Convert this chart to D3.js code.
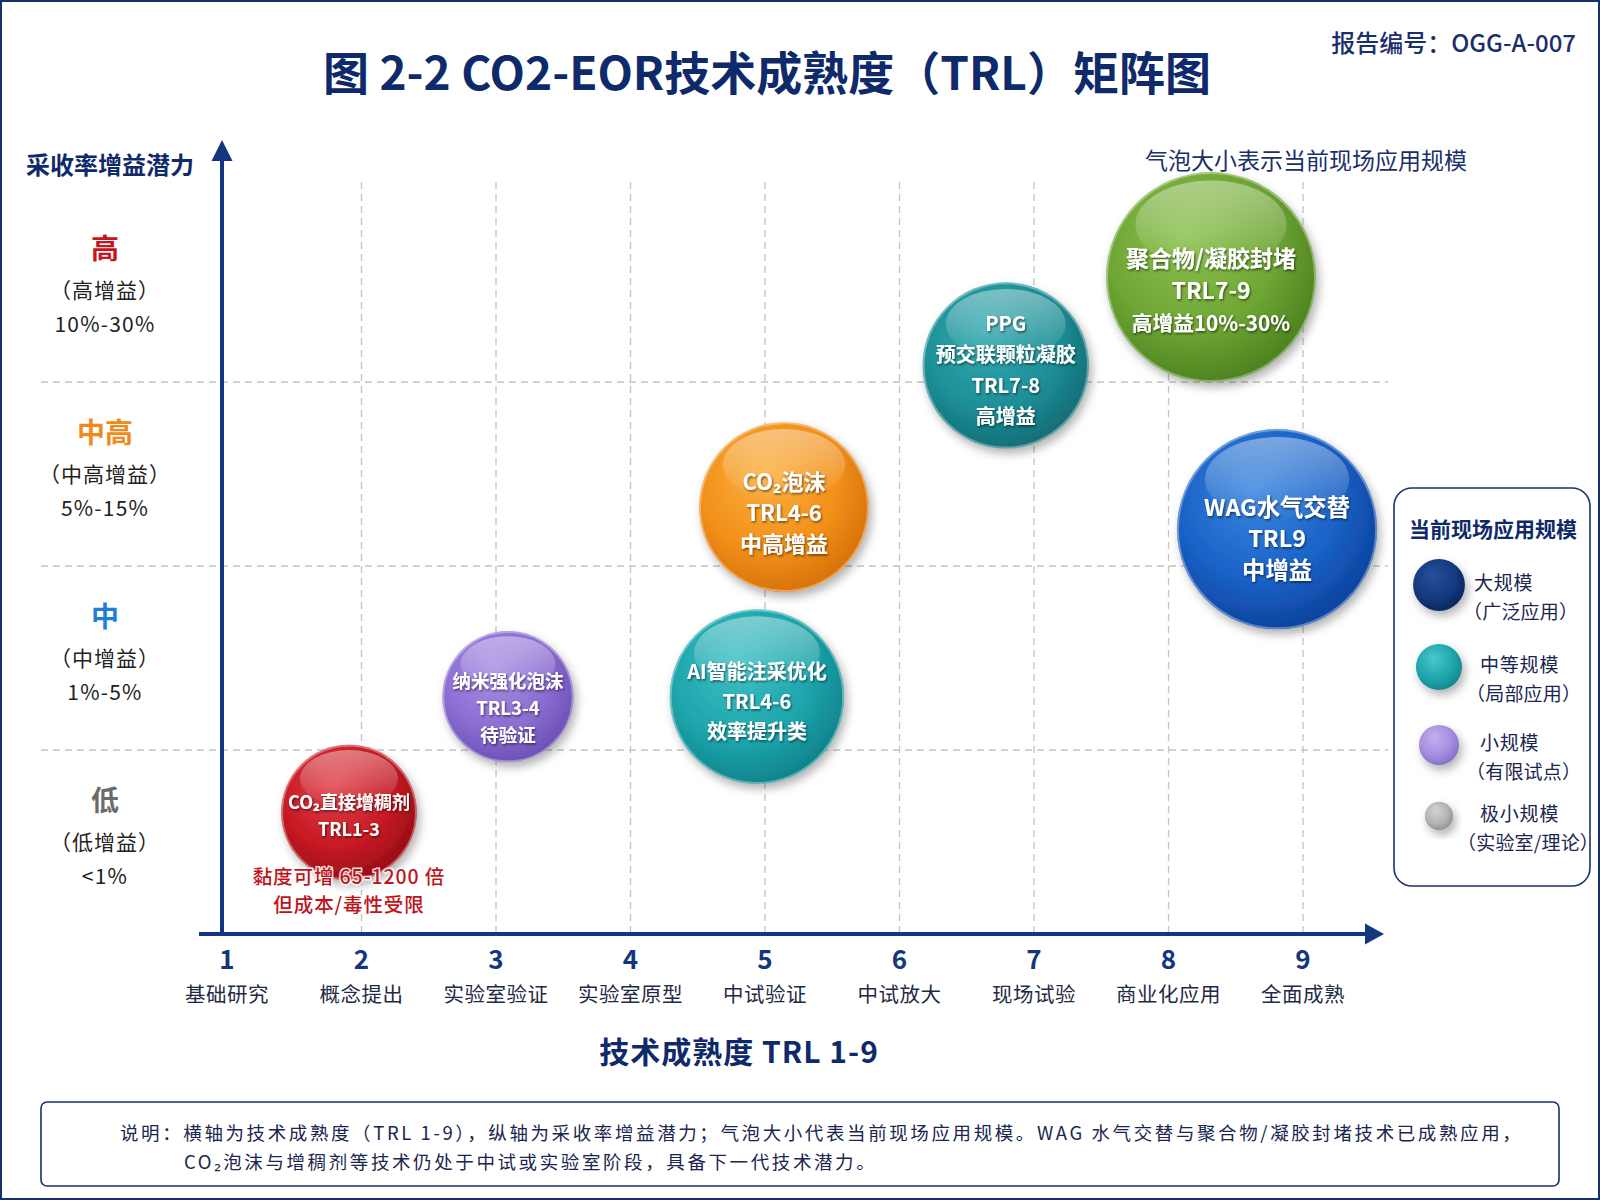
<!DOCTYPE html>
<html><head><meta charset="utf-8">
<script src="https://cdn.jsdelivr.net/npm/d3@7/dist/d3.min.js"></script>
<style>
html,body{margin:0;padding:0;background:#fff;}
svg{display:block;font-family:"Noto Sans CJK SC","Noto Sans",sans-serif;}
</style></head>
<body>
<svg id="chart" width="1600" height="1200"></svg>
<script>
// ---------- DATA ----------
const trlTicks = [1, 2, 3, 4, 5, 6, 7, 8, 9];
const trlLabels = ["基础研究", "概念提出", "实验室验证", "实验室原型", "中试验证", "中试放大", "现场试验", "商业化应用", "全面成熟"];

const gainLevels = ["低", "中", "中高", "高"];
const gainSubLabels = ["（低增益）", "（中增益）", "（中高增益）", "（高增益）"];
const gainRanges = ["<1%", "1%-5%", "5%-15%", "10%-30%"];
const gainColors = ["#6b6b6b", "#1f7fd6", "#f08a1c", "#c8141c"];

const techLines = [
  ["CO₂直接增稠剂", "TRL1-3"],
  ["纳米强化泡沫", "TRL3-4", "待验证"],
  ["AI智能注采优化", "TRL4-6", "效率提升类"],
  ["CO₂泡沫", "TRL4-6", "中高增益"],
  ["PPG", "预交联颗粒凝胶", "TRL7-8", "高增益"],
  ["聚合物/凝胶封堵", "TRL7-9", "高增益10%-30%"],
  ["WAG水气交替", "TRL9", "中增益"]
];
const techTRL = [1.907, 3.089, 4.94, 5.141, 6.79, 8.316, 8.807];
const techGain = [0.66, 1.29, 1.29, 2.32, 3.09, 3.57, 2.2];
const techScale = [46, 43, 76, 72, 69, 110, 100];
const techColors = [
  ["#e0424a", "#c61a24", "#9c0e16"],
  ["#a88ee4", "#8b6dd2", "#6e52b8"],
  ["#3cc0c4", "#1ea5ac", "#10858e"],
  ["#fbb040", "#f2901a", "#d9740a"],
  ["#35aab0", "#1e8f97", "#126f78"],
  ["#8cc24e", "#6ea534", "#4f8420"],
  ["#3a86e0", "#1a62c6", "#0d45a0"]
];
const techFont = [18, 18.5, 20, 22, 20, 23, 23.3];
const techLineFontScale = [[1, 1], [1, 1, 1], [1, 1, 1], [1, 1, 1], [1, 1, 1, 1], [1, 1, 0.9], [1, 1, 1]];
const techLineGap = [26.5, 27, 30, 31, 31, 32.6, 31.6];
const techTextDy = [2, 10, 4, 4, 3.5, 12, 8];
const techNotes = ["黏度可增 65-1200 倍", "但成本/毒性受限"];

const legendTitle = "当前现场应用规模";
const legendNames = ["大规模", "中等规模", "小规模", "极小规模"];
const legendSubs = ["（广泛应用）", "（局部应用）", "（有限试点）", "（实验室/理论）"];
const legendSize = [6.7, 5.3, 4.0, 2.0];
const legendColors = [
  ["#2a4f9c", "#143a80", "#0c2860"],
  ["#4cc6ca", "#1fa7ad", "#138a90"],
  ["#c0b0ee", "#a58fe0", "#8a72cc"],
  ["#d4d4d4", "#b4b4b4", "#969696"]
];

const titleText = "图 2-2  CO2-EOR技术成熟度（TRL）矩阵图";
const reportNo = "报告编号：OGG-A-007";
const yAxisTitle = "采收率增益潜力";
const xAxisTitle = "技术成熟度  TRL 1-9";
const sizeNote = "气泡大小表示当前现场应用规模";
const noteLines = [
  "说明：横轴为技术成熟度（TRL 1-9），纵轴为采收率增益潜力；气泡大小代表当前现场应用规模。WAG 水气交替与聚合物/凝胶封堵技术已成熟应用，",
  "CO₂泡沫与增稠剂等技术仍处于中试或实验室阶段，具备下一代技术潜力。"
];

// ---------- SETUP ----------
const NAVY = "#14367f";
const svg = d3.select("#chart");
const defs = svg.append("defs");

const x = d3.scaleLinear().domain([1, 9]).range([227, 1303]);
const y = d3.scaleLinear().domain([0, 4]).range([934, 198]);
const r = d3.scaleSqrt().domain([0, 110]).range([0, 105]);

// filters
const sh = defs.append("filter").attr("id", "bshadow").attr("x", "-30%").attr("y", "-30%").attr("width", "160%").attr("height", "160%");
sh.append("feDropShadow").attr("dx", 3).attr("dy", 5).attr("stdDeviation", 5).attr("flood-color", "#000").attr("flood-opacity", 0.3);
const ts = defs.append("filter").attr("id", "tshadow").attr("x", "-10%").attr("y", "-30%").attr("width", "120%").attr("height", "160%");
ts.append("feDropShadow").attr("dx", 1).attr("dy", 1.5).attr("stdDeviation", 1.2).attr("flood-color", "#000").attr("flood-opacity", 0.55);

const hl = defs.append("linearGradient").attr("id", "hlgrad").attr("x1", 0).attr("y1", 0).attr("x2", 0).attr("y2", 1);
hl.append("stop").attr("offset", "0%").attr("stop-color", "#fff").attr("stop-opacity", 0.4);
hl.append("stop").attr("offset", "100%").attr("stop-color", "#fff").attr("stop-opacity", 0);

function makeGrad(id, c) {
  const g = defs.append("radialGradient").attr("id", id)
    .attr("cx", "42%").attr("cy", "38%").attr("r", "62%").attr("fx", "38%").attr("fy", "30%");
  g.append("stop").attr("offset", "0%").attr("stop-color", c[0]);
  g.append("stop").attr("offset", "65%").attr("stop-color", c[1]);
  g.append("stop").attr("offset", "100%").attr("stop-color", c[2]);
}
techColors.forEach((c, i) => makeGrad("tg" + i, c));
legendColors.forEach((c, i) => makeGrad("lg" + i, c));

// outer frame
svg.append("rect").attr("x", 1).attr("y", 1).attr("width", 1598).attr("height", 1198)
  .attr("fill", "#fff").attr("stroke", "#1b2f6b").attr("stroke-width", 2);

// title
svg.append("text").attr("x", 767).attr("y", 70).attr("text-anchor", "middle").attr("dominant-baseline", "central")
  .attr("font-size", 46).attr("font-weight", 700).attr("fill", "#0f2a6a").text(titleText);
svg.append("text").attr("x", 1576).attr("y", 41).attr("text-anchor", "end").attr("dominant-baseline", "central")
  .attr("font-size", 24).attr("font-weight", 500).attr("fill", "#1b2f6b").text(reportNo);

// grid
const grid = svg.append("g").attr("stroke", "#c4c4c4").attr("stroke-width", 1.3).attr("stroke-dasharray", "7,5").attr("fill", "none");
grid.selectAll("line.v").data(trlTicks.slice(1)).join("line").attr("class", "v")
  .attr("x1", d => x(d)).attr("x2", d => x(d)).attr("y1", 182).attr("y2", y(0));
grid.selectAll("line.h").data([1, 2, 3]).join("line").attr("class", "h")
  .attr("x1", 41).attr("x2", 1388).attr("y1", d => y(d)).attr("y2", d => y(d));

// y category labels
const yl = svg.append("g").attr("text-anchor", "middle");
gainLevels.forEach((g, i) => {
  const cy = y(i + 0.5);
  yl.append("text").attr("x", 105).attr("y", cy - 43).attr("dominant-baseline", "central")
    .attr("font-size", 28).attr("font-weight", 700).attr("fill", gainColors[i]).text(g);
  yl.append("text").attr("x", 105).attr("y", cy - 1).attr("dominant-baseline", "central")
    .attr("font-size", 21).attr("letter-spacing", 1).attr("fill", "#222").text(gainSubLabels[i]);
  yl.append("text").attr("x", 105).attr("y", cy + 33).attr("dominant-baseline", "central")
    .attr("font-size", 21).attr("letter-spacing", 1.2).attr("fill", "#222").text(gainRanges[i]);
});

// axes
svg.append("line").attr("x1", 222).attr("x2", 222).attr("y1", y(0) + 2).attr("y2", 158)
  .attr("stroke", NAVY).attr("stroke-width", 4);
svg.append("path").attr("d", "M222,140 L211.5,161 L232.5,161 Z").attr("fill", NAVY);
svg.append("line").attr("x1", 199).attr("x2", 1368).attr("y1", y(0)).attr("y2", y(0))
  .attr("stroke", NAVY).attr("stroke-width", 4);
svg.append("path").attr("d", `M1384,${y(0)} L1365,${y(0) - 10.5} L1365,${y(0) + 10.5} Z`).attr("fill", NAVY);

// x ticks
const xt = svg.append("g").attr("text-anchor", "middle");
xt.selectAll("text.num").data(trlTicks).join("text").attr("class", "num")
  .attr("x", d => x(d)).attr("y", 957).attr("dominant-baseline", "central")
  .attr("font-size", 26).attr("font-weight", 700).attr("fill", NAVY).text(d => d);
xt.selectAll("text.lab").data(trlTicks).join("text").attr("class", "lab")
  .attr("x", d => x(d)).attr("y", 993).attr("dominant-baseline", "central")
  .attr("font-size", 20.5).attr("letter-spacing", 0.5).attr("fill", "#1f2a44").text((d, i) => trlLabels[i]);

// axis titles
svg.append("text").attr("x", 110).attr("y", 163).attr("text-anchor", "middle").attr("dominant-baseline", "central")
  .attr("font-size", 24).attr("font-weight", 700).attr("fill", "#0f2a6a").text(yAxisTitle);
svg.append("text").attr("x", 739).attr("y", 1050).attr("text-anchor", "middle").attr("dominant-baseline", "central")
  .attr("font-size", 30).attr("font-weight", 700).attr("letter-spacing", 1).attr("fill", "#0f2a6a").text(xAxisTitle);
svg.append("text").attr("x", 1306).attr("y", 159).attr("text-anchor", "middle").attr("dominant-baseline", "central")
  .attr("font-size", 23).attr("fill", "#1b2f6b").text(sizeNote);

// bubbles
const bubbles = svg.append("g").selectAll("g").data(techLines.map((l, i) => i)).join("g")
  .attr("transform", i => `translate(${x(techTRL[i])},${y(techGain[i])})`);
bubbles.append("circle").attr("r", i => r(techScale[i])).attr("fill", i => `url(#tg${i})`)
  .attr("filter", "url(#bshadow)");
bubbles.append("circle").attr("r", i => r(techScale[i]) - 1).attr("fill", "none")
  .attr("stroke", "#fff").attr("stroke-opacity", 0.35).attr("stroke-width", 2);
bubbles.append("ellipse").attr("cx", 0).attr("cy", i => -r(techScale[i]) * 0.5)
  .attr("rx", i => r(techScale[i]) * 0.72).attr("ry", i => r(techScale[i]) * 0.42)
  .attr("fill", "url(#hlgrad)");
bubbles.each(function (i) {
  const g = d3.select(this);
  const lines = techLines[i];
  const fs = techFont[i];
  const lh = techLineGap[i];
  const off = -(lines.length - 1) * lh / 2 + techTextDy[i];
  lines.forEach((t, k) => {
    g.append("text").attr("x", 0).attr("y", off + k * lh).attr("text-anchor", "middle")
      .attr("dominant-baseline", "central").attr("font-size", fs * techLineFontScale[i][k]).attr("font-weight", 700)
      .attr("fill", "#fff").attr("filter", "url(#tshadow)").text(t);
  });
});

// annotation under CO2 thickener
techNotes.forEach((t, k) => {
  svg.append("text").attr("x", x(techTRL[0])).attr("y", 875 + k * 28).attr("text-anchor", "middle")
    .attr("dominant-baseline", "central").attr("font-size", 19.5).attr("font-weight", 500).attr("letter-spacing", 0.9)
    .attr("fill", "#c0141c").attr("stroke", "#fff").attr("stroke-width", 3).attr("stroke-opacity", 0.85)
    .attr("paint-order", "stroke").text(t);
});

// legend
const lg = svg.append("g");
lg.append("rect").attr("x", 1394).attr("y", 488).attr("width", 196).attr("height", 398).attr("rx", 18)
  .attr("fill", "#fff").attr("stroke", "#1b2f6b").attr("stroke-width", 1.6);
lg.append("text").attr("x", 1493).attr("y", 528).attr("text-anchor", "middle").attr("dominant-baseline", "central")
  .attr("font-size", 21).attr("font-weight", 700).attr("fill", "#0f2a6a").text(legendTitle);
const legY = [585, 667, 745, 816];
const legTextX = [1474, 1480, 1480, 1480];
const legSubX = [1474, 1477, 1477, 1468];
legendNames.forEach((n, i) => {
  lg.append("circle").attr("cx", 1439).attr("cy", legY[i]).attr("r", r(legendSize[i]))
    .attr("fill", `url(#lg${i})`).attr("filter", "url(#bshadow)");
  lg.append("text").attr("x", legTextX[i]).attr("y", legY[i] - 4).attr("dominant-baseline", "central")
    .attr("font-size", 19).attr("letter-spacing", 0.8).attr("fill", "#1a2650").text(n);
  lg.append("text").attr("x", legSubX[i] - 11).attr("y", legY[i] + 25).attr("dominant-baseline", "central")
    .attr("font-size", 19).attr("letter-spacing", 0.2).attr("fill", "#1a2650").text(legendSubs[i]);
});

// note box
svg.append("rect").attr("x", 41).attr("y", 1102).attr("width", 1518).attr("height", 84).attr("rx", 6)
  .attr("fill", "#fff").attr("stroke", "#1b2f6b").attr("stroke-width", 1.6);
svg.append("text").attr("x", 120).attr("y", 1132).attr("dominant-baseline", "central")
  .attr("font-size", 18.5).attr("letter-spacing", 2.6).attr("fill", "#1a2650").text(noteLines[0]);
svg.append("text").attr("x", 184).attr("y", 1161).attr("dominant-baseline", "central")
  .attr("font-size", 18.5).attr("letter-spacing", 2.6).attr("fill", "#1a2650").text(noteLines[1]);
</script>
</body></html>
